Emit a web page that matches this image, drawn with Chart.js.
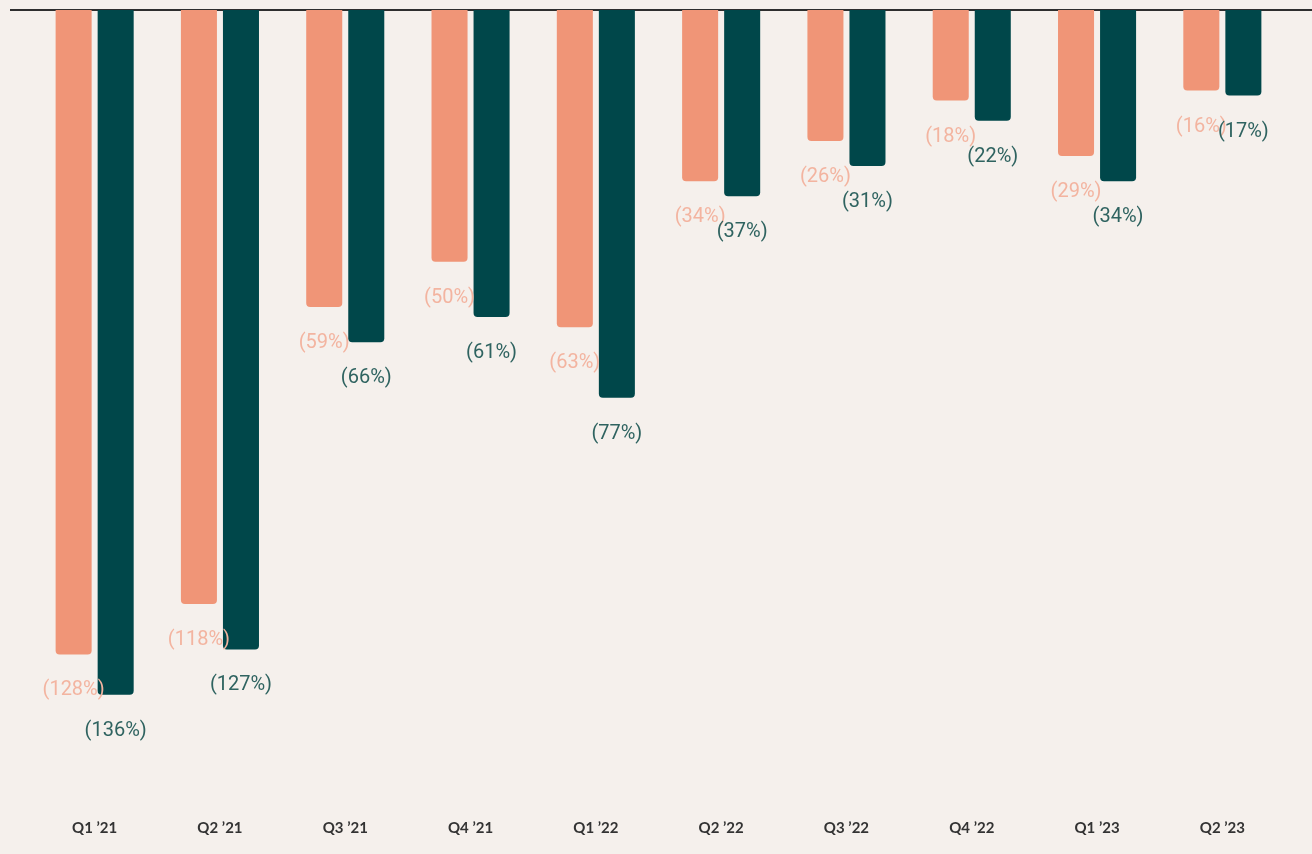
<!DOCTYPE html>
<html>
<head>
<meta charset="utf-8">
<script src="https://cdn.jsdelivr.net/npm/chart.js@4.4.1/dist/chart.umd.min.js"></script>
<style>
  html, body { margin: 0; padding: 0; background: #f5f0ec; }
  #wrap { width: 1312px; height: 854px; }
</style>
</head>
<body>
<div id="wrap"><canvas id="chart" width="1312" height="854"></canvas></div>
<script>
const quarters = ["Q1 \u201921", "Q2 \u201921", "Q3 \u201921", "Q4 \u201921", "Q1 \u201922", "Q2 \u201922", "Q3 \u201922", "Q4 \u201922", "Q1 \u201923", "Q2 \u201923"];
const orangeSeries = [-128, -118, -59, -50, -63, -34, -26, -18, -29, -16];
const tealSeries = [-136, -127, -66, -61, -77, -37, -31, -22, -34, -17];

const ORANGE = '#f09577';
const TEAL = '#00474a';

// zero line across the top
const zeroLine = {
  id: 'zeroLine',
  beforeDatasetsDraw(chart) {
    const { ctx } = chart;
    const y = chart.scales.y.getPixelForValue(0);
    ctx.save();
    ctx.strokeStyle = '#2e2e2e';
    ctx.lineWidth = 2;
    ctx.beginPath();
    ctx.moveTo(10, y);
    ctx.lineTo(chart.width, y);
    ctx.stroke();
    ctx.restore();
  }
};

// "(xx%)" under each bar
const valueLabels = {
  id: 'valueLabels',
  afterDatasetsDraw(chart) {
    const { ctx } = chart;
    const colors = ['#f3b4a0', '#2f6360'];
    ctx.save();
    ctx.font = '20px Roboto';
    ctx.textAlign = 'center';
    ctx.textBaseline = 'middle';
    chart.data.datasets.forEach((ds, i) => {
      chart.getDatasetMeta(i).data.forEach((bar, j) => {
        ctx.fillStyle = colors[i];
        ctx.fillText('(' + Math.abs(ds.data[j]) + '%)', bar.x, bar.y + 36);
      });
    });
    ctx.restore();
  }
};

new Chart(document.getElementById('chart'), {
  type: 'bar',
  data: {
    labels: quarters,
    datasets: [
      { data: orangeSeries, backgroundColor: ORANGE, borderRadius: { bottomLeft: 4, bottomRight: 4 }, borderSkipped: false },
      { data: tealSeries, backgroundColor: TEAL, borderRadius: { bottomLeft: 4, bottomRight: 4 }, borderSkipped: false }
    ]
  },
  options: {
    responsive: false,
    animation: false,
    layout: { padding: { left: 32, right: 27, top: 10, bottom: 11 } },
    datasets: { bar: { categoryPercentage: 0.671, barPercentage: 0.857 } },
    plugins: { legend: { display: false }, tooltip: { enabled: false } },
    scales: {
      x: {
        grid: { display: false, drawTicks: false },
        border: { display: false },
        ticks: { color: '#333333', padding: 6, font: { family: 'Lato', size: 15, weight: 'bold' } }
      },
      y: {
        display: false,
        min: -159.5,
        max: 0
      }
    }
  },
  plugins: [zeroLine, valueLabels]
});
</script>
</body>
</html>
